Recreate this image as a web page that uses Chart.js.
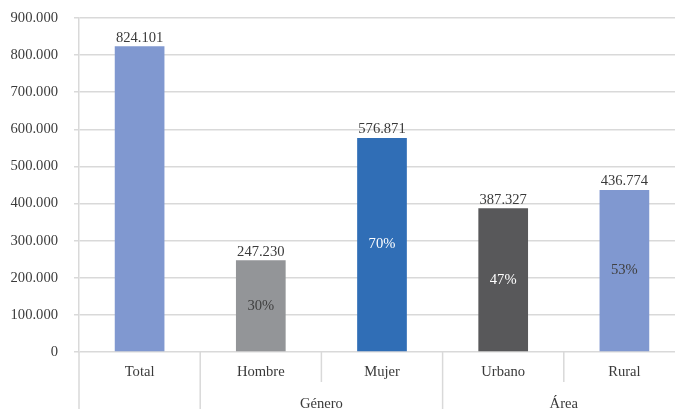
<!DOCTYPE html>
<html>
<head>
<meta charset="utf-8">
<script src="https://cdn.jsdelivr.net/npm/chart.js@4.4.0/dist/chart.umd.min.js"></script>
<style>
  html, body { margin: 0; padding: 0; background: #fff; overflow: hidden; }
  #clip { width: 675px; height: 409px; overflow: hidden; }
  #wrap { width: 685px; height: 409px; position: relative; }
</style>
</head>
<body>
<div id="clip"><div id="wrap"><canvas id="c"></canvas></div></div>
<script>
// ─── Datos ────────────────────────────────────────────────────────────────
const categories = ['Total', 'Hombre', 'Mujer', 'Urbano', 'Rural'];
const groups     = [{ label: '', from: 0, to: 0 }, { label: 'Género', from: 1, to: 2 }, { label: 'Área', from: 3, to: 4 }];
const values     = [824101, 247230, 576871, 387327, 436774];
const percents   = [null, 30, 70, 47, 53];
const barColors  = ['#8098d0', '#939598', '#306eb6', '#58585a', '#8098d0'];
const pctColors  = [null, '#404040', '#ffffff', '#ffffff', '#404040'];

const FONT = '"Liberation Serif", "DejaVu Serif", serif';
const TEXT = '#3a3a3a';
const GRID = '#d9d9d9';
const SIZE = 14.6;

const fmt = v => String(Math.round(v)).replace(/\B(?=(\d{3})+(?!\d))/g, '.');

// ─── Etiquetas de datos y eje X de dos niveles ───────────────────────────
const labelsPlugin = {
  id: 'labels',
  afterDatasetsDraw(chart) {
    const { ctx } = chart;
    const meta = chart.getDatasetMeta(0);
    ctx.save();
    ctx.font = SIZE + 'px ' + FONT;
    ctx.textAlign = 'center';
    meta.data.forEach((bar, i) => {
      ctx.fillStyle = TEXT;
      ctx.textBaseline = 'bottom';
      ctx.fillText(fmt(values[i]), bar.x, bar.y - 1);
      if (percents[i] != null) {
        ctx.fillStyle = pctColors[i];
        ctx.textBaseline = 'middle';
        ctx.fillText(percents[i] + '%', bar.x, (bar.y + bar.base) / 2);
      }
    });
    ctx.restore();
  },
  afterDraw(chart) {
    const { ctx, chartArea } = chart;
    const x = chart.scales.x;
    const bottom = chart.height;
    const half = (x.getPixelForValue(1) - x.getPixelForValue(0)) / 2;
    ctx.save();
    ctx.strokeStyle = GRID;
    ctx.lineWidth = 1.5;
    // separadores
    const line = (px, y2) => {
      ctx.beginPath(); ctx.moveTo(px, chartArea.bottom); ctx.lineTo(px, y2); ctx.stroke();
    };
    line(chartArea.left, bottom);
    for (let i = 0; i < categories.length - 1; i++) {
      const px = x.getPixelForValue(i) + half;
      const isGroupEdge = groups.some(g => g.to === i);
      line(px, isGroupEdge ? bottom : chartArea.bottom + 30);
    }
    // textos
    ctx.fillStyle = TEXT;
    ctx.font = SIZE + 'px ' + FONT;
    ctx.textAlign = 'center';
    ctx.textBaseline = 'middle';
    categories.forEach((c, i) => ctx.fillText(c, x.getPixelForValue(i), chartArea.bottom + 20));
    groups.forEach(g => {
      if (!g.label) return;
      const cx = (x.getPixelForValue(g.from) + x.getPixelForValue(g.to)) / 2;
      ctx.fillText(g.label, cx, chartArea.bottom + 52);
    });
    ctx.restore();
  }
};

new Chart(document.getElementById('c'), {
  type: 'bar',
  data: {
    labels: categories,
    datasets: [{
      data: values,
      backgroundColor: barColors,
      barPercentage: 0.41,
      categoryPercentage: 1,
    }],
  },
  options: {
    responsive: true,
    maintainAspectRatio: false,
    animation: false,
    layout: { padding: { top: 18, right: 0, left: 0, bottom: 0 } },
    plugins: { legend: { display: false }, tooltip: { enabled: false } },
    scales: {
      x: {
        grid: { display: false },
        border: { display: false },
        ticks: { display: false },
        afterFit: s => { s.height = 57; },
      },
      y: {
        min: 0,
        max: 900000,
        afterFit: s => { s.width = 79; s.paddingTop = 0; s.paddingBottom = 0; },
        ticks: {
          stepSize: 100000,
          padding: 16,
          color: TEXT,
          font: { family: FONT, size: SIZE },
          callback: v => fmt(v),
        },
        grid: { color: GRID, lineWidth: 1.5, tickLength: 5, drawTicks: true },
        border: { display: true, color: GRID, width: 1.5 },
      },
    },
  },
  plugins: [labelsPlugin],
});
</script>
</body>
</html>
